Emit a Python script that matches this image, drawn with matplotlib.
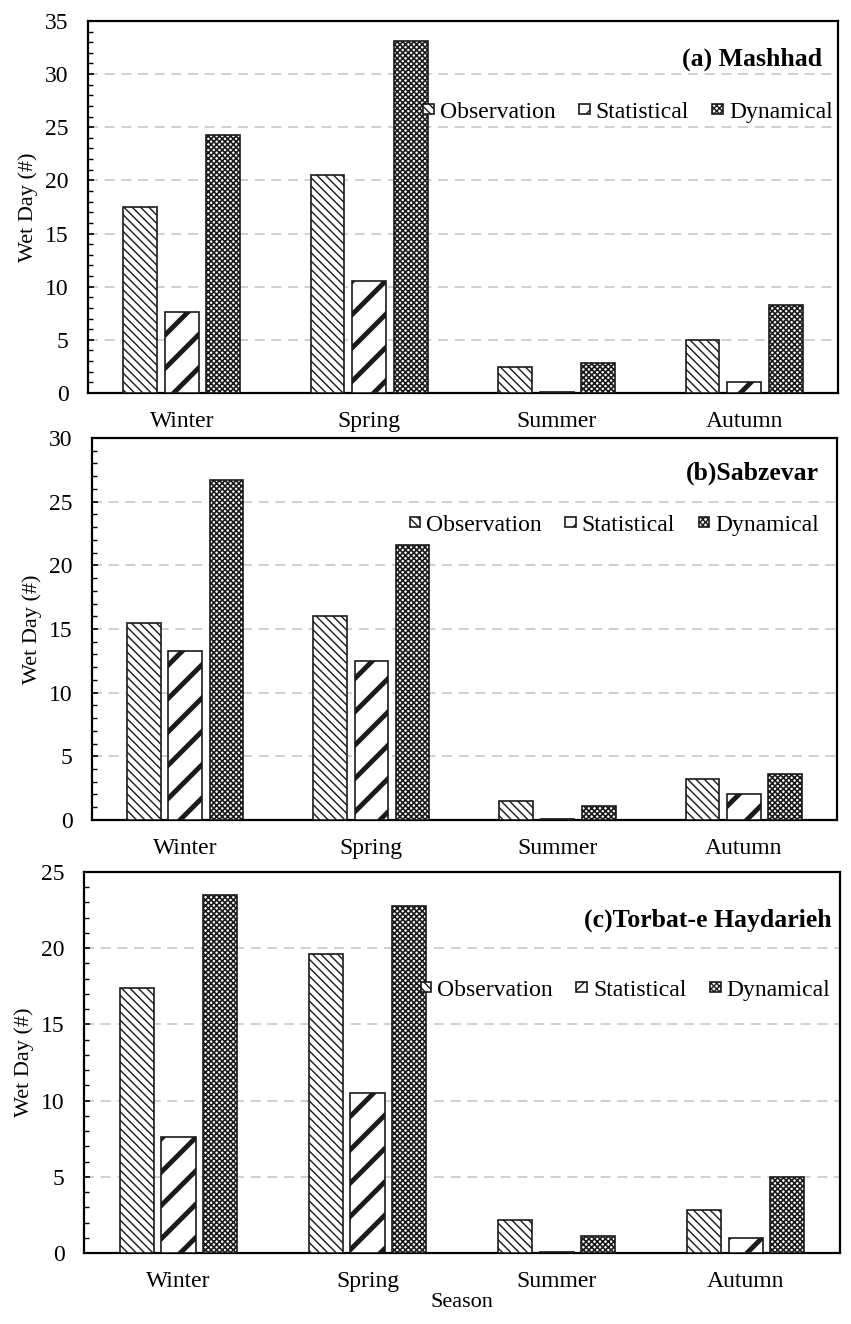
import numpy as np
import matplotlib
matplotlib.use("Agg")
import matplotlib.pyplot as plt
from matplotlib.ticker import MultipleLocator

seasons = ["Winter", "Spring", "Summer", "Autumn"]
series = ["Observation", "Statistical", "Dynamical"]

# wet day counts per station (obs, statistical, dynamical)
mashhad_obs = [17.5, 20.5, 2.4, 5.0]
mashhad_stat = [7.6, 10.5, 0.05, 1.0]
mashhad_dyn = [24.3, 33.1, 2.8, 8.3]

sabzevar_obs = [15.5, 16.0, 1.5, 3.2]
sabzevar_stat = [13.3, 12.5, 0.1, 2.0]
sabzevar_dyn = [26.7, 21.6, 1.1, 3.6]

torbat_obs = [17.4, 19.6, 2.2, 2.8]
torbat_stat = [7.6, 10.5, 0.05, 1.0]
torbat_dyn = [23.5, 22.8, 1.1, 5.0]

panels = [
    ("(a) Mashhad", [mashhad_obs, mashhad_stat, mashhad_dyn], 35),
    ("(b)Sabzevar", [sabzevar_obs, sabzevar_stat, sabzevar_dyn], 30),
    ("(c)Torbat-e Haydarieh", [torbat_obs, torbat_stat, torbat_dyn], 25),
]

# axes boxes [left, bottom, width, height] in figure fractions
boxes = [
    [0.1034, 0.7032, 0.8813, 0.2810],
    [0.1081, 0.3807, 0.8754, 0.2885],
    [0.0987, 0.0536, 0.8884, 0.2878],
]
title_pos = [(0.979, 0.898), (0.976, 0.908), (0.989, 0.874)]
legend_pos = [(0.993, 0.755), (0.976, 0.772), (0.987, 0.690)]

hatches = ["\\\\\\\\", "/", "xxxxxx"]
hatch_lw = [1.0, 3.5, 1.2]

plt.rcParams["font.family"] = ["Liberation Serif", "DejaVu Serif"]

fig = plt.figure(figsize=(8.51, 13.24), dpi=100)

x = np.arange(len(seasons)) + 0.5
width = 0.18
step = 0.222

for i, (title, vals, ymax) in enumerate(panels):
    ax = fig.add_axes(boxes[i])
    handles = []
    for j, v in enumerate(vals):
        bars = ax.bar(x + (j - 1) * step, v, width, color="white",
                      edgecolor="#1a1a1a", linewidth=1.2, hatch=hatches[j],
                      label=series[j], zorder=3)
        for b in bars:
            if hasattr(b, "set_hatch_linewidth"):
                b.set_hatch_linewidth(hatch_lw[j])
        handles.append(bars)
    ax.set_xlim(0, 4)
    ax.set_ylim(0, ymax)
    ax.set_xticks(x)
    ax.set_xticklabels(seasons, fontsize=17)
    ax.tick_params(axis="x", length=0, pad=13)
    ax.yaxis.set_major_locator(MultipleLocator(5))
    ax.yaxis.set_minor_locator(MultipleLocator(1))
    ax.tick_params(axis="y", which="both", direction="in", labelsize=17, pad=14)
    ax.tick_params(axis="y", which="major", length=4.5, width=1.2)
    ax.tick_params(axis="y", which="minor", length=3.5, width=1.0)
    ax.yaxis.grid(True, color="#c8c8c8", linestyle=(0, (6, 4)), linewidth=1.2, zorder=0)
    for s in ax.spines.values():
        s.set_linewidth(1.6)
    ax.set_ylabel("Wet Day (#)", fontsize=16, labelpad=5)
    ax.text(title_pos[i][0], title_pos[i][1], title, transform=ax.transAxes,
            ha="right", va="center", fontsize=18.5, fontweight="bold")
    ax.legend(handles, series, loc="center right", bbox_to_anchor=legend_pos[i],
              ncol=3, frameon=False, fontsize=17, handlelength=0.45,
              handleheight=0.25, handletextpad=0.25, columnspacing=1.0,
              borderpad=0, borderaxespad=0)
    if i == 2:
        ax.set_xlabel("Season", fontsize=16, labelpad=1)

fig.savefig("out.png", dpi=100)
